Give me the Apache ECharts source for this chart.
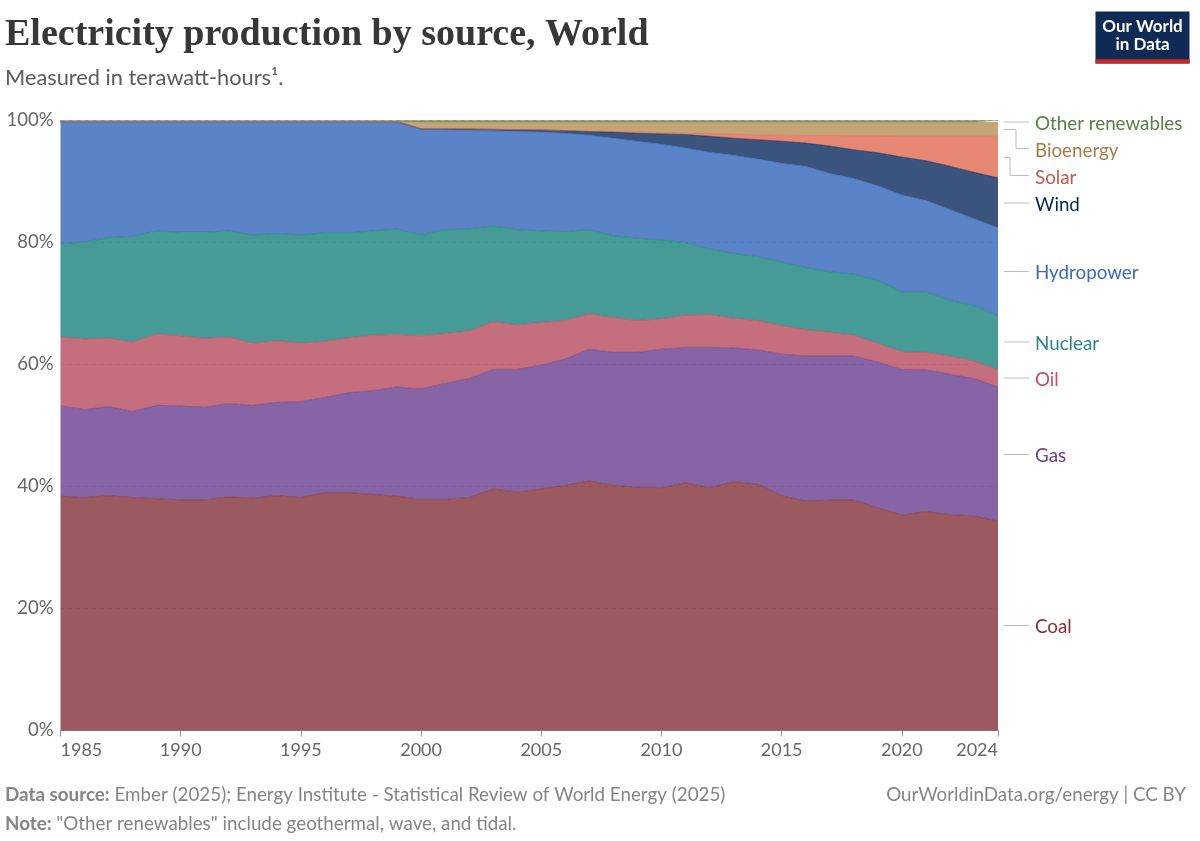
<!DOCTYPE html>
<html><head><meta charset="utf-8">
<script src="https://cdn.jsdelivr.net/npm/echarts@6/dist/echarts.min.js"></script>
<style>html,body{margin:0;padding:0;background:#fff}#c{width:1200px;height:841px}</style>
</head><body><div id="c"></div>
<script>
const years = [1985,1986,1987,1988,1989,1990,1991,1992,1993,1994,1995,1996,1997,1998,1999,2000,2001,2002,2003,2004,2005,2006,2007,2008,2009,2010,2011,2012,2013,2014,2015,2016,2017,2018,2019,2020,2021,2022,2023,2024];
const tickYears = [1985,1990,1995,2000,2005,2010,2015,2020,2024];
const yTicks = [0,20,40,60,80,100];
const coal = [38.4,38.2,38.5,38.2,38.0,37.8,37.8,38.3,38.1,38.5,38.2,39.0,39.0,38.7,38.4,37.9,37.9,38.2,39.6,39.1,39.6,40.2,40.9,40.2,39.9,39.8,40.6,39.8,40.8,40.4,38.5,37.6,37.8,37.8,36.5,35.3,35.9,35.4,35.2,34.3];
const gas = [14.8,14.4,14.6,14.1,15.3,15.4,15.2,15.3,15.2,15.3,15.7,15.6,16.4,17.0,17.9,18.1,19.0,19.5,19.6,20.1,20.3,20.7,21.6,21.8,22.1,22.7,22.2,23.0,21.9,22.0,23.2,23.8,23.6,23.6,23.9,23.9,23.2,23.0,22.5,22.0];
const oil = [11.3,11.6,11.2,11.4,11.7,11.5,11.3,10.9,10.2,10.1,9.6,9.2,9.0,9.1,8.6,8.7,8.2,7.8,7.8,7.3,7.0,6.3,5.8,5.7,5.2,5.0,5.3,5.4,4.9,4.8,4.7,4.3,3.9,3.4,3.1,2.9,2.9,3.0,2.9,2.8];
const nuclear = [15.3,15.9,16.5,17.3,16.9,17.0,17.4,17.4,17.7,17.6,17.7,17.8,17.2,17.1,17.3,16.6,17.0,16.7,15.7,15.6,15.0,14.6,13.8,13.4,13.5,12.9,11.9,10.7,10.6,10.5,10.4,10.2,9.9,10.0,10.3,9.8,9.9,9.1,9.1,8.9];
const hydropower = [20.0,19.7,19.0,18.8,17.9,18.1,18.1,17.9,18.6,18.3,18.6,18.2,18.2,17.9,17.6,17.25,16.4,16.2,15.6,16.1,16.2,16.1,15.5,16.0,15.9,15.7,15.5,15.9,16.1,16.0,16.2,16.6,16.1,15.7,15.5,15.9,15.0,14.9,14.2,14.4];
const wind = [0,0,0,0,0,0,0,0,0,0,0,0,0,0,0,0.1,0.15,0.2,0.25,0.3,0.35,0.45,0.6,1.0,1.3,1.7,2.2,2.6,2.8,3.15,3.6,3.8,4.5,4.7,5.4,6.2,6.5,7.1,7.6,8.2];
const solar = [0,0,0,0,0,0,0,0,0,0,0,0,0,0,0,0,0,0,0,0,0,0,0.1,0.1,0.2,0.2,0.2,0.45,0.65,0.8,1.0,1.25,1.75,2.3,2.8,3.4,4.0,4.9,5.9,6.8];
const bioenergy = [0,0,0,0,0,0,0,0,0,0,0,0,0,0,0,1.05,1.05,1.1,1.15,1.2,1.25,1.35,1.4,1.5,1.6,1.7,1.8,1.85,1.95,2.05,2.1,2.15,2.15,2.2,2.2,2.3,2.3,2.3,2.3,2.3];
const otherRenewables = [0.2,0.2,0.2,0.2,0.2,0.2,0.2,0.2,0.2,0.2,0.2,0.2,0.2,0.2,0.2,0.3,0.3,0.3,0.3,0.3,0.3,0.3,0.3,0.3,0.3,0.3,0.3,0.3,0.3,0.3,0.3,0.3,0.3,0.3,0.3,0.3,0.3,0.3,0.3,0.3];

const names = ['Coal','Gas','Oil','Nuclear','Hydropower','Wind','Solar','Bioenergy','Other renewables'];
const values = [coal,gas,oil,nuclear,hydropower,wind,solar,bioenergy,otherRenewables];
const colors = ['#813137','#693D8E','#B64A5C','#18827C','#3265BA','#0A295C','#DE6950','#B58F56','#578145'];
const labelColors = ['#883039','#6D3E91','#C15065','#2C8580','#3A6BBB','#00295B','#C4594D','#A67B45','#578145'];
const labelY = [627,456,380,344,273,205,177.5,151,124];
const connectors = [
  [[1004,625.5],[1029,625.5]],
  [[1004,454.5],[1029,454.5]],
  [[1004,378],[1029,378]],
  [[1004,342],[1029,342]],
  [[1004,271.5],[1029,271.5]],
  [[1004,203],[1029,203]],
  [[1004,157.5],[1010,157.5],[1010,175.5],[1029,175.5]],
  [[1004,129.5],[1016,129.5],[1016,148.5],[1029,148.5]],
  [[1004,122],[1029,122]]
];
const footColor = '#858585';
const graphics = [
  {type:'text',left:5,top:16,style:{text:'Electricity production by source, World',font:'bold 38px "Liberation Serif", serif',fill:'#373737'}},
  {type:'text',left:5,top:67,style:{text:'Measured in terawatt-hours\u00B9.',font:'21.8px Lato',fill:'#5b5b5b'}},
  {type:'rect',shape:{x:1095.5,y:11.5,width:94,height:52},style:{fill:'#0F2A54'}},
  {type:'rect',shape:{x:1095.5,y:59.3,width:94,height:4.2},style:{fill:'#CE261E'}},
  {type:'text',style:{x:1142.5,y:26.5,text:'Our World',font:'bold 17px Lato',fill:'#fff',align:'center',verticalAlign:'middle'}},
  {type:'text',style:{x:1142.5,y:44.5,text:'in Data',font:'bold 17px Lato',fill:'#fff',align:'center',verticalAlign:'middle'}},
  {type:'text',style:{x:5,y:795,text:'{b|Data source:}{r| Ember (2025); Energy Institute - Statistical Review of World Energy (2025)}',verticalAlign:'middle',rich:{b:{font:'bold 18.8px Lato',fill:footColor},r:{font:'18.8px Lato',fill:footColor}}}},
  {type:'text',style:{x:5,y:824,text:'{b|Note:}{r| "Other renewables" include geothermal, wave, and tidal.}',verticalAlign:'middle',rich:{b:{font:'bold 18.8px Lato',fill:footColor},r:{font:'18.8px Lato',fill:footColor}}}},
  {type:'text',style:{x:1186,y:795,text:'OurWorldinData.org/energy | CC BY',font:'18.8px Lato',fill:footColor,align:'right',verticalAlign:'middle'}}
];
names.forEach((n,i)=>{
  graphics.push({type:'polyline',shape:{points:connectors[i]},style:{stroke:'#bdbdbd',lineWidth:1,fill:null}});
  graphics.push({type:'text',style:{x:1035,y:labelY[i],text:n,font:'18.8px Lato',fill:labelColors[i],verticalAlign:'middle'}});
});

const chart = echarts.init(document.getElementById('c'),null,{renderer:'canvas'});
chart.setOption({
  animation:false,
  backgroundColor:'#fff',
  grid:{left:60.5,right:202,top:120.5,bottom:110.5,containLabel:false},
  xAxis:{
    type:'category',data:years.map(String),boundaryGap:false,
    axisLine:{show:true,lineStyle:{color:'#8f8f8f',width:1}},
    axisTick:{show:true,length:6,lineStyle:{color:'#8f8f8f'},interval:(i,v)=>tickYears.includes(+v)},
    axisLabel:{color:'#666',fontFamily:'Lato',fontSize:18,margin:11,interval:(i,v)=>tickYears.includes(+v),alignMinLabel:'left',alignMaxLabel:'right'},
    splitLine:{show:false}
  },
  yAxis:{
    type:'value',min:yTicks[0],max:yTicks[yTicks.length-1],interval:20,
    axisLine:{show:false},axisTick:{show:false},
    axisLabel:{color:'#666',fontFamily:'Lato',fontSize:18.5,margin:7,formatter:'{value}%',padding:[2,0,0,0]},
    splitLine:{show:true,lineStyle:{color:'#d0d0d0',type:[4,4],width:1}}
  },
  series:names.map((n,i)=>({
    name:n,type:'line',stack:'total',data:values[i],symbol:'none',showSymbol:false,smooth:false,
    lineStyle:{color:colors[i],width:0.7,opacity:0.85},
    areaStyle:{color:colors[i],opacity:0.8},
    emphasis:{disabled:true}
  })),
  graphic:graphics
});
</script></body></html>
